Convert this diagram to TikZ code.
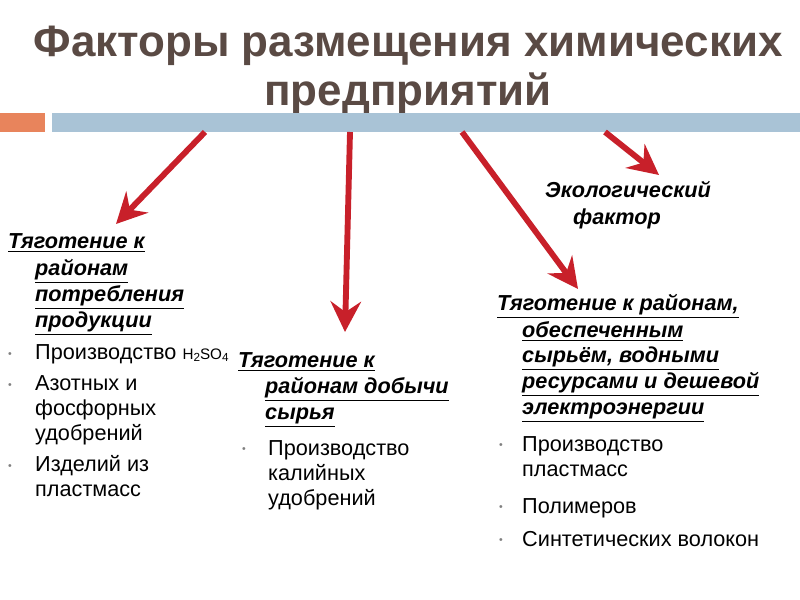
\documentclass[tikz,border=0pt]{standalone}
\usepackage{fontspec}
\setmainfont{Liberation Sans}
\usetikzlibrary{arrows.meta}
\definecolor{ttl}{HTML}{5A4A44}
\definecolor{redA}{HTML}{C8202A}
\definecolor{orA}{HTML}{E8845C}
\definecolor{blA}{HTML}{A9C3D6}
\begin{document}
\begin{tikzpicture}[x=0.03cm,y=-0.03cm,
  t/.style={anchor=base west,inner sep=0,font=\fontsize{18.5}{20}\selectfont},
  h/.style={t,font=\fontsize{18.5}{20}\selectfont\bfseries\itshape},
  bl/.style={anchor=base west,inner sep=0,font=\fontsize{9}{10}\selectfont,text=gray},
  arr/.style={redA,line width=5pt,-{Stealth[length=26pt,width=26pt,inset=9pt]}}]
\useasboundingbox (0,0) rectangle (800,600);
\fill[white] (0,0) rectangle (800,600);
\node[ttl,font=\fontsize{37.5}{42}\selectfont\bfseries,align=center] (title) at (408,70) {Факторы размещения химических\\предприятий};
\fill[orA] (0,113) rectangle (45,132);
\fill[blA] (52,113) rectangle (800,132);
\coordinate (s1) at (205,132); \coordinate (e1) at (116,224);
\coordinate (s2) at (350,132); \coordinate (e2) at (345,332);
\coordinate (s3) at (462,132); \coordinate (e3) at (578,289);
\coordinate (s4) at (605,132); \coordinate (e4) at (659,175);
\draw[arr] (s1) -- (e1);
\draw[arr] (s2) -- (e2);
\draw[arr] (s3) -- (e3);
\draw[arr] (s4) -- (e4);
% block 1
\node[h] (a1) at (8,249) {\underline{Тяготение к}};
\node[h] (a2) at (35,276) {\underline{районам}};
\node[h] (a3) at (35,302) {\underline{потребления}};
\node[h] (a4) at (35,328) {\underline{продукции}};
\node[bl] (b1) at (8,358) {•}; \node[t] (a5) at (35,360) {Производство {\fontsize{13}{14}\selectfont H}\raisebox{-1pt}{\fontsize{10}{10}\selectfont 2}{\fontsize{13}{14}\selectfont SO}\raisebox{-1pt}{\fontsize{10}{10}\selectfont 4}};
\node[bl] (b2) at (8,389) {•}; \node[t] (a6) at (35,391) {Азотных и};
\node[t] (a7) at (35,416) {фосфорных};
\node[t] (a8) at (35,441) {удобрений};
\node[bl] (b3) at (8,470) {•}; \node[t] (a9) at (35,472) {Изделий из};
\node[t] (a10) at (35,497) {пластмасс};
% block 2
\node[h] (c1) at (238,368) {\underline{Тяготение к}};
\node[h] (c2) at (265,394) {\underline{районам добычи}};
\node[h] (c3) at (265,420) {\underline{сырья}};
\node[bl] (d0) at (242,453) {•}; \node[t] (c4) at (268,456) {Производство};
\node[t] (c5) at (268,481) {калийных};
\node[t] (c6) at (268,506) {удобрений};
% block 3
\node[h] (e11) at (497,311) {\underline{Тяготение к районам,}};
\node[h] (e12) at (522,338) {\underline{обеспеченным}};
\node[h] (e13) at (522,363) {\underline{сырьём, водными}};
\node[h] (e14) at (522,389) {\underline{ресурсами и дешевой}};
\node[h] (e15) at (522,415) {\underline{электроэнергии}};
\node[bl] (f1) at (499,449) {•}; \node[t] (e16) at (522,452) {Производство};
\node[t] (e17) at (522,477) {пластмасс};
\node[bl] (f2) at (499,511) {•}; \node[t] (e18) at (522,514) {Полимеров};
\node[bl] (f3) at (499,544) {•}; \node[t] (e19) at (522,547) {Синтетических волокон};
% block 4
\node[h] (g1) at (545,198) {Экологический};
\node[h] (g2) at (573,225) {фактор};
\end{tikzpicture}
\end{document}
